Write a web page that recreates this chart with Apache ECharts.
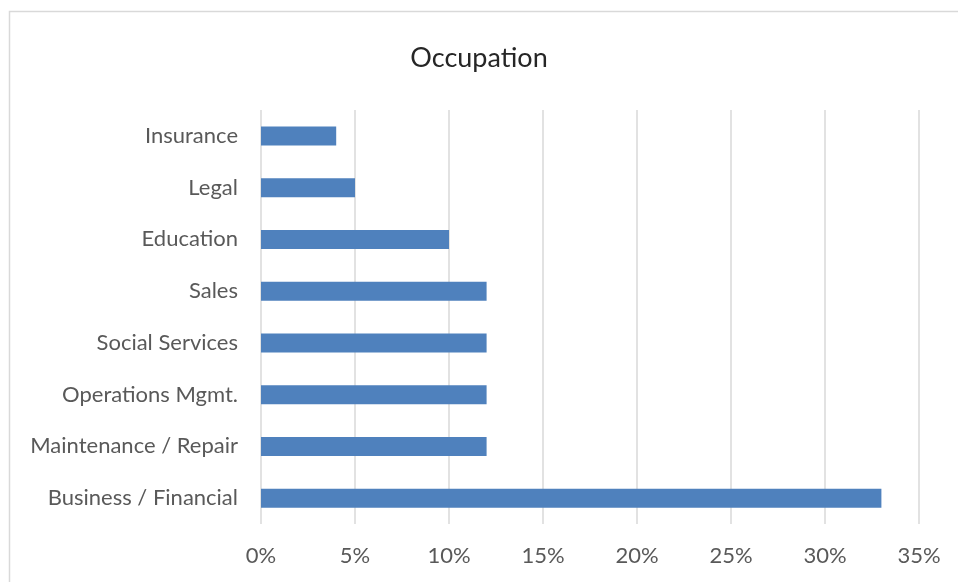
<!DOCTYPE html>
<html>
<head>
<meta charset="utf-8">
<script src="https://cdn.jsdelivr.net/npm/echarts@6/dist/echarts.min.js"></script>
<style>
  html, body { margin: 0; padding: 0; background: #ffffff; }
  #chart { width: 958px; height: 582px; }
</style>
</head>
<body>
<div id="chart"></div>
<script>
// Occupation shares (percent), listed bottom to top
const categories = [
  'Business / Financial',
  'Maintenance / Repair',
  'Operations Mgmt.',
  'Social Services',
  'Sales',
  'Education',
  'Legal',
  'Insurance'
];
const shares = [33, 12, 12, 12, 12, 10, 5, 4];
const tickValues = [0, 5, 10, 15, 20, 25, 30, 35];

const fontFamily = 'Lato, "Open Sans", "Noto Sans", sans-serif';
const textColor = '#595959';

const chart = echarts.init(document.getElementById('chart'), null, { renderer: 'canvas' });

chart.setOption({
  animation: false,
  backgroundColor: '#ffffff',
  title: {
    text: 'Occupation',
    left: 'center',
    top: 40,
    textStyle: { fontFamily, fontSize: 27, fontWeight: 'normal', color: '#262626' }
  },
  graphic: [{
    type: 'rect',
    shape: { x: 9.5, y: 11.5, width: 1000, height: 700 },
    style: { fill: 'none', stroke: '#d9d9d9', lineWidth: 1.5 },
    silent: true,
    z: -1
  }],
  grid: { left: 261, right: 39, top: 110, bottom: 58, containLabel: false },
  xAxis: {
    type: 'value',
    min: tickValues[0],
    max: tickValues[tickValues.length - 1],
    interval: 5,
    axisLine: { show: false },
    axisTick: { show: false },
    splitLine: { show: true, lineStyle: { color: '#d9d9d9', width: 1.5 } },
    axisLabel: {
      formatter: v => v + '%',
      color: textColor,
      fontFamily,
      fontSize: 22,
      margin: 21
    }
  },
  yAxis: {
    type: 'category',
    data: categories,
    axisLine: { show: false },
    axisTick: { show: false },
    axisLabel: { color: textColor, fontFamily, fontSize: 22, margin: 23 }
  },
  series: [{
    type: 'bar',
    data: shares,
    barWidth: 19,
    itemStyle: { color: '#4f81bd' }
  }]
});
</script>
</body>
</html>
